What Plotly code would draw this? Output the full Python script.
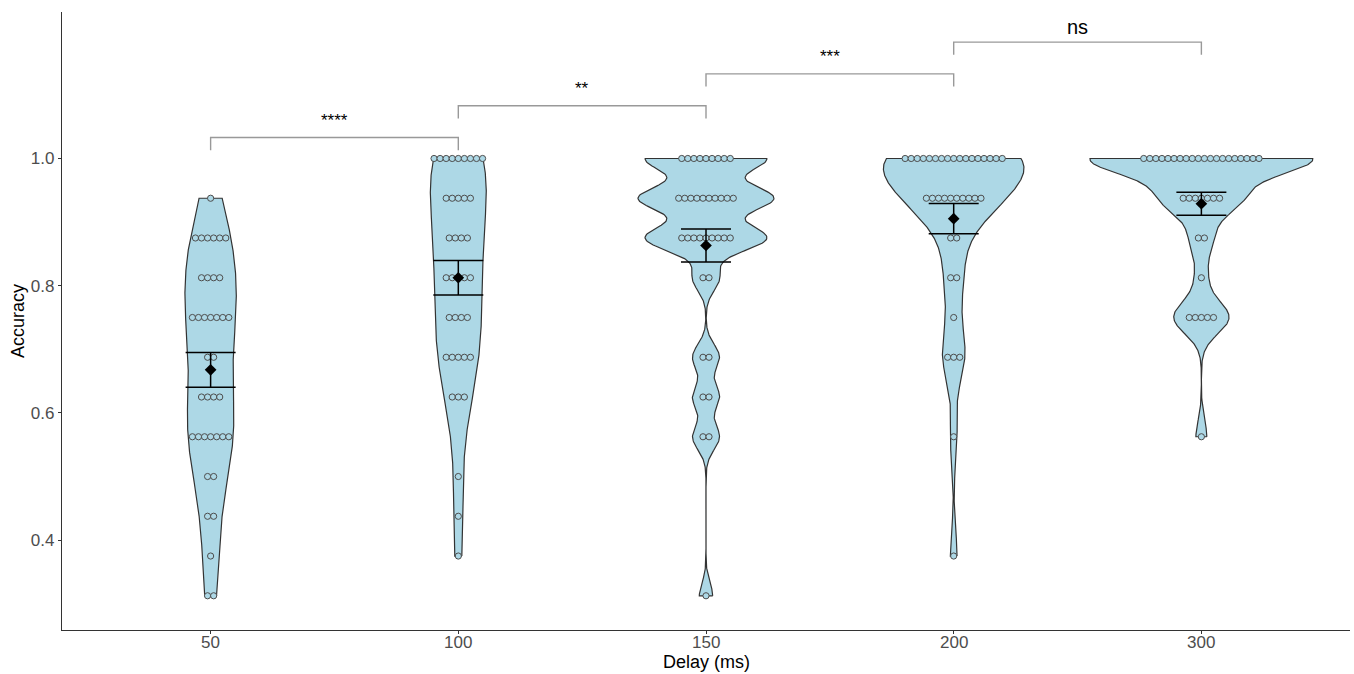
import numpy as np
import plotly.graph_objects as go

# Delay conditions (x categories)
delays = ["50", "100", "150", "200", "300"]

# Accuracy levels reached by participants (16-trial blocks)
levels = [1.0, 0.9375, 0.875, 0.8125, 0.75, 0.6875, 0.625, 0.5625, 0.5, 0.4375, 0.375, 0.3125]

# Number of participants at each accuracy level, per delay
counts_50 = [0, 1, 6, 4, 7, 2, 4, 7, 2, 2, 1, 2]
counts_100 = [9, 5, 4, 5, 4, 5, 3, 0, 1, 1, 1, 0]
counts_150 = [9, 10, 9, 2, 0, 2, 2, 2, 0, 0, 0, 1]
counts_200 = [17, 10, 2, 2, 1, 3, 0, 1, 0, 0, 1, 0]
counts_300 = [20, 7, 2, 1, 5, 0, 0, 1, 0, 0, 0, 0]
group_counts = [counts_50, counts_100, counts_150, counts_200, counts_300]

# Pairwise comparisons between neighbouring delays and their significance labels
comparisons = [(0, 1), (1, 2), (2, 3), (3, 4)]
sig_labels = ["****", "**", "***", "ns"]

FILL = "#ADD8E6"
OUTLINE = "#333333"
VIOLIN_WIDTH = 0.9    # full width of the widest violin (category units)
DOT_STEP = 0.0245     # horizontal spacing between stacked dots (category units)
BRACKET_BASE = 1.033
BRACKET_STEP = 0.05
BRACKET_TIP = 0.02
FONT = "Liberation Sans, Arial, Helvetica, sans-serif"


def bw_nrd0(v):
    """Silverman's rule of thumb as used by R's bw.nrd0."""
    sd = np.std(v, ddof=1)
    q75, q25 = np.percentile(v, [75, 25])
    lo = min(sd, (q75 - q25) / 1.34)
    if lo == 0:
        lo = sd if sd > 0 else (abs(v[0]) if v[0] != 0 else 1.0)
    return 0.9 * lo * len(v) ** -0.2


def kde(v, grid, bw):
    z = (grid[:, None] - v[None, :]) / bw
    return np.exp(-0.5 * z ** 2).sum(axis=1) / (len(v) * bw * np.sqrt(2 * np.pi))


fig = go.Figure()

samples = [np.repeat(levels, c) for c in group_counts]

# Trimmed Gaussian density of each group, all on one shared density scale
grids, dens = [], []
for v in samples:
    g = np.linspace(v.min(), v.max(), 512)
    grids.append(g)
    dens.append(kde(v, g, bw_nrd0(v)))
max_dens = max(d.max() for d in dens)

for i, (g, d) in enumerate(zip(grids, dens)):
    half = VIOLIN_WIDTH / 2 * d / max_dens
    xs = np.concatenate([i + half, (i - half)[::-1], [i + half[0]]])
    ys = np.concatenate([g, g[::-1], [g[0]]])
    fig.add_trace(go.Scatter(
        x=xs, y=ys, mode="lines", fill="toself", fillcolor=FILL,
        line=dict(color=OUTLINE, width=1.2),
        showlegend=False, hoverinfo="skip",
    ))

# Centre-stacked dot plot of the individual scores
for i, c in enumerate(group_counts):
    xs, ys = [], []
    for lvl, n in zip(levels, c):
        if n == 0:
            continue
        offs = (np.arange(n) - (n - 1) / 2) * DOT_STEP
        xs.extend(i + offs)
        ys.extend([lvl] * n)
    fig.add_trace(go.Scatter(
        x=xs, y=ys, mode="markers",
        marker=dict(size=6.2, color=FILL, line=dict(color="#4D4D4D", width=1)),
        showlegend=False, hoverinfo="y",
    ))

# Mean +/- standard error
means = [v.mean() for v in samples]
ses = [v.std(ddof=1) / np.sqrt(len(v)) for v in samples]
fig.add_trace(go.Scatter(
    x=list(range(len(delays))), y=means, mode="markers",
    marker=dict(symbol="diamond", size=9, color="black"),
    error_y=dict(type="data", array=ses, width=25, thickness=1.5, color="black"),
    showlegend=False,
))

# Significance brackets
annotations = []
for k, ((a, b), lab) in enumerate(zip(comparisons, sig_labels)):
    top = BRACKET_BASE + k * BRACKET_STEP
    fig.add_trace(go.Scatter(
        x=[a, a, b, b], y=[top - BRACKET_TIP, top, top, top - BRACKET_TIP],
        mode="lines", line=dict(color="#999999", width=1.4),
        showlegend=False, hoverinfo="skip",
    ))
    annotations.append(dict(
        x=(a + b) / 2, y=top, xref="x", yref="y", text=lab,
        showarrow=False, yanchor="bottom",
        yshift=2 if lab == "ns" else 6,
        font=dict(family=FONT, size=20 if lab == "ns" else 17, color="black"),
    ))

# x tick labels set close under the axis line
for i, lab in enumerate(delays):
    annotations.append(dict(
        x=i, y=0, xref="x", yref="paper", text=lab,
        showarrow=False, xanchor="center", yanchor="middle", yshift=-12,
        font=dict(family=FONT, size=17, color="#4D4D4D"),
    ))

# x-axis title placed under the tick labels
annotations.append(dict(
    x=0.5, y=0, xref="paper", yref="paper", text="Delay (ms)",
    showarrow=False, xanchor="center", yanchor="middle", yshift=-32,
    font=dict(family=FONT, size=18, color="black"),
))

axis_common = dict(
    showline=True, linecolor=OUTLINE, linewidth=1.2,
    ticks="outside", ticklen=3, tickcolor=OUTLINE, tickwidth=1,
    showgrid=False, zeroline=False,
    tickfont=dict(family=FONT, size=17, color="#4D4D4D"),
)

fig.update_layout(
    width=1354, height=674,
    margin=dict(l=62, r=4, t=12, b=44),
    paper_bgcolor="white", plot_bgcolor="white",
    annotations=annotations,
    font=dict(family=FONT),
    xaxis=dict(
        range=[-0.6, 4.6],
        tickvals=list(range(len(delays))), showticklabels=False,
        **axis_common,
    ),
    yaxis=dict(
        range=[0.2587, 1.2303],
        tickvals=[0.4, 0.6, 0.8, 1.0], ticktext=["0.4", "0.6", "0.8", "1.0"],
        title=dict(text="Accuracy", font=dict(family=FONT, size=18, color="black"), standoff=1),
        **axis_common,
    ),
)

fig.write_html("out.html")
